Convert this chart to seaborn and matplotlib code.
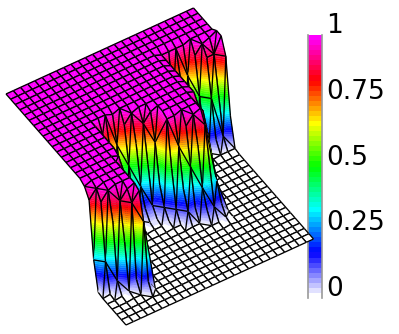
import numpy as np
import matplotlib
matplotlib.use("Agg")
import matplotlib.pyplot as plt
import seaborn as sns
from matplotlib.collections import PolyCollection
from matplotlib.colors import LinearSegmentedColormap

sns.set_style("white")

# surface heights, one string per column of the grid, coded through height_codes
height_codes = [0.0, 0.01, 0.03, 0.12, 0.3, 0.5, 0.7, 0.88, 0.97, 1.0, 1.04]
height_rows = [
    "9" * 17 + "8741" + "0" * 6,
    "9" * 18 + "8741" + "0" * 5,
    "9" * 19 + "8631" + "0" * 4,
    "9" * 20 + "7521" + "0" * 3,
    "9" * 20 + "8731" + "0" * 3,
    "9" * 21 + "8631" + "0" * 2,
    "9" * 15 + "87531" + "0" * 7,
    "9" * 10 + "7531" + "0" * 13,
    "9" * 10 + "6431" + "0" * 13,
    "9" * 9 + "86431" + "0" * 13,
    "9" * 10 + "75321" + "0" * 12,
    "9" * 10 + "864321" + "0" * 11,
    "9" * 11 + "75321" + "0" * 11,
    "9" * 11 + "864321" + "0" * 10,
    "9" * 13 + "8531" + "0" * 10,
    "9" * 13 + "86431" + "0" * 9,
    "9" * 14 + "7531" + "0" * 9,
    "9" * 14 + "86431" + "0" * 8,
    "9" * 15 + "7531" + "0" * 8,
    "9" * 4 + "8" * 8 + "77654321" + "0" * 7,
    "9" * 4 + "8531" + "0" * 19,
    "9" * 4 + "8641" + "0" * 19,
    "9" * 4 + "86421" + "0" * 18,
    "9" * 5 + "7531" + "0" * 18,
    "9" * 5 + "87531" + "0" * 17,
    "9" * 6 + "7531" + "0" * 17,
    "9" * 5 + "aa741" + "0" * 17,
]
bar_ticks = [1, 0.75, 0.5, 0.25, 0]
bar_labels = ["1", "0.75", "0.5", "0.25", "0"]
hue_stops = ["white", "blue", "cyan", "lime", "yellow", "red", "magenta"]
n_bands = 52

z = np.array([[height_codes[int(c, 16)] for c in row] for row in height_rows])
cmap = LinearSegmentedColormap.from_list("hues", hue_stops, N=n_bands)

# view of the surface: where the grid axes and the height axis land on the canvas
origin = np.array([6.0, 94.0])
axis_u = np.array([187.5, -86.0])
axis_v = np.array([120.0, 137.0])
axis_h = np.array([0.0, 94.0])
n_i, n_j = z.shape


def project(i, j, h):
    return origin + i / (n_i - 1) * axis_u + j / (n_j - 1) * axis_v + (1 - h) * axis_h


def clip_band(tri, low, high):
    # cut a triangle (x, y, h) down to the part between two heights
    pts = tri
    for sign, level in ((1, low), (-1, high)):
        out = []
        for k in range(len(pts)):
            a, b = pts[k], pts[(k + 1) % len(pts)]
            da, db = sign * (a[2] - level), sign * (b[2] - level)
            if da >= 0:
                out.append(a)
            if da * db < 0:
                out.append(a + (b - a) * da / (da - db))
        pts = out
        if not pts:
            break
    return pts


verts, faces, edges, widths = [], [], [], []


def add_fill(tri):
    hs = tri[:, 2]
    first = min(int(hs.min() * n_bands), n_bands - 1)
    last = min(int(hs.max() * n_bands), n_bands - 1)
    for b in range(first, last + 1):
        high = np.inf if b == n_bands - 1 else (b + 1) / n_bands
        part = clip_band(list(tri), b / n_bands, high)
        if len(part) >= 3:
            color = cmap(b)
            verts.append(np.array(part)[:, :2])
            faces.append(color)
            edges.append(color)
            widths.append(0.35)


def add_line(a, b):
    verts.append(np.array([a[:2], b[:2]]))
    faces.append((0, 0, 0, 0))
    edges.append((0, 0, 0, 1))
    widths.append(0.95)


def node(i, j):
    return np.append(project(i, j, z[i, j]), z[i, j])


# back to front so nearer cells cover farther ones
for i in range(n_i - 2, -1, -1):
    for j in range(n_j - 1):
        a, b, c, d = node(i, j), node(i + 1, j), node(i + 1, j + 1), node(i, j + 1)
        steep = max(a[2], b[2], c[2], d[2]) - min(a[2], b[2], c[2], d[2]) > 0.1
        if steep and (i + j) % 2:
            tris, diag = [(a, b, c), (a, c, d)], (a, c)
        else:
            tris, diag = [(a, b, d), (b, c, d)], (b, d)
        for tri in tris:
            add_fill(np.array(tri))
        if steep:
            add_line(*diag)
        for p, q in ((a, b), (d, c)):
            # lines along the wall vanish in the reference except near its ends
            if (p[2] > 0.85 and q[2] > 0.85) or (p[2] < 0.02 and q[2] < 0.02):
                add_line(p, q)
        for p, q in ((a, d), (b, c)):
            add_line(p, q)

fig = plt.figure(figsize=(3.99, 3.34), dpi=100)

# colour bar
cax = fig.add_axes([308 / 399, 1 - 298 / 334, 14 / 399, 263 / 334])
levels = np.linspace(1, 0, n_bands).reshape(-1, 1)
sns.heatmap(levels, ax=cax, cmap=cmap, vmin=0, vmax=1, cbar=False,
            xticklabels=False, yticklabels=False)
for t, label in zip(bar_ticks, bar_labels):
    cax.annotate(label, xy=(1, (1 - t) * n_bands), xycoords=cax.get_yaxis_transform(),
                 xytext=(4.5, 2), textcoords="offset pixels", va="baseline",
                 fontsize=19, color="black", annotation_clip=False)
for side in ("left", "right"):
    cax.spines[side].set_visible(True)
    cax.spines[side].set_color("#999999")
    cax.spines[side].set_linewidth(1.2)

# surface goes on top of the bar, its right corner overlaps it
ax = fig.add_axes([0, 0, 1, 1], zorder=3)
ax.patch.set_alpha(0)
ax.set_xlim(0, 399)
ax.set_ylim(334, 0)
ax.axis("off")
ax.add_collection(PolyCollection(verts, facecolors=faces, edgecolors=edges,
                                 linewidths=widths, closed=False))

fig.savefig("out.png", dpi=100)
